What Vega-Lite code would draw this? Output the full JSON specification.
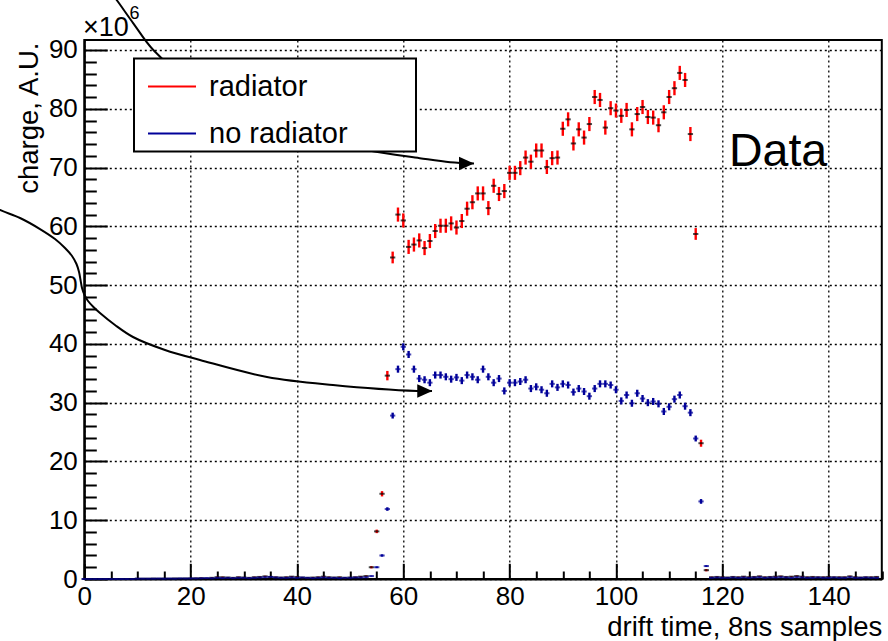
{
  "$schema": "https://vega.github.io/schema/vega-lite/v6.json",
  "width": 797.5,
  "height": 539,
  "autosize": {"type": "none"},
  "padding": {"left": 84.3, "top": 40, "right": 6.2, "bottom": 62},
  "background": "white",
  "config": {
    "view": {"stroke": "black", "strokeWidth": 2},
    "font": "Liberation Sans",
    "axis": {"domainColor": "black", "domainWidth": 2, "tickColor": "black", "tickWidth": 2, "gridColor": "black", "gridDash": [2, 3], "gridWidth": 1.3, "labelFont": "Liberation Sans", "labelFontSize": 26, "labelColor": "black", "titleFont": "Liberation Sans", "titleFontSize": 27.5, "titleColor": "black", "titleFontWeight": "normal", "labelFlush": false, "labelOverlap": false},
    "legend": {"strokeWidth": 2}
  },
  "datasets": {
    "pts": [
      {"x":0,"v":0,"e":0.05,"s":"radiator"},{"x":1,"v":0,"e":0.05,"s":"radiator"},{"x":2,"v":0,"e":0.05,"s":"radiator"},{"x":3,"v":0,"e":0.05,"s":"radiator"},{"x":4,"v":0,"e":0.05,"s":"radiator"},{"x":5,"v":0,"e":0.05,"s":"radiator"},{"x":6,"v":0,"e":0.05,"s":"radiator"},{"x":7,"v":0,"e":0.05,"s":"radiator"},{"x":8,"v":0,"e":0.05,"s":"radiator"},{"x":9,"v":0,"e":0.05,"s":"radiator"},
      {"x":10,"v":0.05,"e":0.05,"s":"radiator"},{"x":11,"v":0.05,"e":0.05,"s":"radiator"},{"x":12,"v":0.05,"e":0.05,"s":"radiator"},{"x":13,"v":0.08,"e":0.05,"s":"radiator"},{"x":14,"v":0.05,"e":0.05,"s":"radiator"},{"x":15,"v":0.08,"e":0.05,"s":"radiator"},{"x":16,"v":0.05,"e":0.05,"s":"radiator"},{"x":17,"v":0.1,"e":0.05,"s":"radiator"},{"x":18,"v":0.08,"e":0.05,"s":"radiator"},{"x":19,"v":0.1,"e":0.05,"s":"radiator"},
      {"x":20,"v":0.1,"e":0.08,"s":"radiator"},{"x":21,"v":0.12,"e":0.08,"s":"radiator"},{"x":22,"v":0.15,"e":0.08,"s":"radiator"},{"x":23,"v":0.1,"e":0.08,"s":"radiator"},{"x":24,"v":0.2,"e":0.08,"s":"radiator"},{"x":25,"v":0.3,"e":0.1,"s":"radiator"},{"x":26,"v":0.3,"e":0.1,"s":"radiator"},{"x":27,"v":0.25,"e":0.1,"s":"radiator"},{"x":28,"v":0.2,"e":0.1,"s":"radiator"},{"x":29,"v":0.3,"e":0.1,"s":"radiator"},
      {"x":30,"v":0.25,"e":0.1,"s":"radiator"},{"x":31,"v":0.2,"e":0.1,"s":"radiator"},{"x":32,"v":0.3,"e":0.1,"s":"radiator"},{"x":33,"v":0.35,"e":0.1,"s":"radiator"},{"x":34,"v":0.45,"e":0.1,"s":"radiator"},{"x":35,"v":0.35,"e":0.1,"s":"radiator"},{"x":36,"v":0.3,"e":0.1,"s":"radiator"},{"x":37,"v":0.25,"e":0.1,"s":"radiator"},{"x":38,"v":0.3,"e":0.1,"s":"radiator"},{"x":39,"v":0.4,"e":0.1,"s":"radiator"},
      {"x":40,"v":0.35,"e":0.1,"s":"radiator"},{"x":41,"v":0.25,"e":0.1,"s":"radiator"},{"x":42,"v":0.2,"e":0.1,"s":"radiator"},{"x":43,"v":0.25,"e":0.1,"s":"radiator"},{"x":44,"v":0.3,"e":0.1,"s":"radiator"},{"x":45,"v":0.4,"e":0.1,"s":"radiator"},{"x":46,"v":0.3,"e":0.1,"s":"radiator"},{"x":47,"v":0.25,"e":0.1,"s":"radiator"},{"x":48,"v":0.3,"e":0.1,"s":"radiator"},{"x":49,"v":0.2,"e":0.1,"s":"radiator"},
      {"x":50,"v":0.25,"e":0.1,"s":"radiator"},{"x":51,"v":0.3,"e":0.1,"s":"radiator"},{"x":52,"v":0.4,"e":0.1,"s":"radiator"},{"x":53,"v":0.5,"e":0.1,"s":"radiator"},
      {"x":54,"v":2.0,"e":0.2,"s":"radiator"},{"x":55,"v":8.1,"e":0.3,"s":"radiator"},{"x":56,"v":14.5,"e":0.45,"s":"radiator"},{"x":57,"v":34.6,"e":0.8,"s":"radiator"},{"x":58,"v":54.7,"e":1.0,"s":"radiator"},{"x":59,"v":62.0,"e":1.2,"s":"radiator"},
      {"x":60,"v":61.0,"e":1.2,"s":"radiator"},{"x":61,"v":56.5,"e":1.2,"s":"radiator"},{"x":62,"v":56.9,"e":1.2,"s":"radiator"},{"x":63,"v":57.6,"e":1.2,"s":"radiator"},{"x":64,"v":56.3,"e":1.2,"s":"radiator"},{"x":65,"v":57.5,"e":1.2,"s":"radiator"},{"x":66,"v":59.2,"e":1.2,"s":"radiator"},{"x":67,"v":60.1,"e":1.2,"s":"radiator"},{"x":68,"v":60.1,"e":1.2,"s":"radiator"},{"x":69,"v":60.5,"e":1.2,"s":"radiator"},
      {"x":70,"v":59.8,"e":1.2,"s":"radiator"},{"x":71,"v":60.9,"e":1.2,"s":"radiator"},{"x":72,"v":63.0,"e":1.2,"s":"radiator"},{"x":73,"v":64.1,"e":1.2,"s":"radiator"},{"x":74,"v":65.6,"e":1.2,"s":"radiator"},{"x":75,"v":65.6,"e":1.2,"s":"radiator"},{"x":76,"v":63.1,"e":1.2,"s":"radiator"},{"x":77,"v":66.9,"e":1.2,"s":"radiator"},{"x":78,"v":65.5,"e":1.2,"s":"radiator"},{"x":79,"v":66.0,"e":1.2,"s":"radiator"},
      {"x":80,"v":69.1,"e":1.2,"s":"radiator"},{"x":81,"v":69.1,"e":1.2,"s":"radiator"},{"x":82,"v":69.9,"e":1.2,"s":"radiator"},{"x":83,"v":71.7,"e":1.2,"s":"radiator"},{"x":84,"v":71.0,"e":1.2,"s":"radiator"},{"x":85,"v":72.9,"e":1.2,"s":"radiator"},{"x":86,"v":72.9,"e":1.2,"s":"radiator"},{"x":87,"v":70.1,"e":1.2,"s":"radiator"},{"x":88,"v":71.6,"e":1.2,"s":"radiator"},{"x":89,"v":71.7,"e":1.2,"s":"radiator"},
      {"x":90,"v":76.6,"e":1.2,"s":"radiator"},{"x":91,"v":78.2,"e":1.2,"s":"radiator"},{"x":92,"v":74.1,"e":1.2,"s":"radiator"},{"x":93,"v":76.5,"e":1.2,"s":"radiator"},{"x":94,"v":75.1,"e":1.2,"s":"radiator"},{"x":95,"v":77.4,"e":1.2,"s":"radiator"},{"x":96,"v":82.0,"e":1.2,"s":"radiator"},{"x":97,"v":81.5,"e":1.2,"s":"radiator"},{"x":98,"v":76.8,"e":1.2,"s":"radiator"},{"x":99,"v":80.1,"e":1.2,"s":"radiator"},
      {"x":100,"v":79.7,"e":1.2,"s":"radiator"},{"x":101,"v":78.8,"e":1.2,"s":"radiator"},{"x":102,"v":79.8,"e":1.2,"s":"radiator"},{"x":103,"v":76.5,"e":1.2,"s":"radiator"},{"x":104,"v":79.1,"e":1.2,"s":"radiator"},{"x":105,"v":80.3,"e":1.2,"s":"radiator"},{"x":106,"v":78.6,"e":1.2,"s":"radiator"},{"x":107,"v":78.5,"e":1.2,"s":"radiator"},{"x":108,"v":77.2,"e":1.2,"s":"radiator"},{"x":109,"v":79.4,"e":1.2,"s":"radiator"},
      {"x":110,"v":82.0,"e":1.2,"s":"radiator"},{"x":111,"v":83.5,"e":1.2,"s":"radiator"},{"x":112,"v":86.1,"e":1.2,"s":"radiator"},{"x":113,"v":84.9,"e":1.2,"s":"radiator"},{"x":114,"v":75.7,"e":1.2,"s":"radiator"},{"x":115,"v":58.7,"e":1.0,"s":"radiator"},{"x":116,"v":23.1,"e":0.6,"s":"radiator"},{"x":117,"v":1.5,"e":0.2,"s":"radiator"},
      {"x":118,"v":0.3,"e":0.1,"s":"radiator"},{"x":119,"v":0.35,"e":0.1,"s":"radiator"},{"x":120,"v":0.3,"e":0.1,"s":"radiator"},{"x":121,"v":0.25,"e":0.1,"s":"radiator"},{"x":122,"v":0.35,"e":0.1,"s":"radiator"},{"x":123,"v":0.3,"e":0.1,"s":"radiator"},{"x":124,"v":0.4,"e":0.1,"s":"radiator"},{"x":125,"v":0.3,"e":0.1,"s":"radiator"},{"x":126,"v":0.35,"e":0.1,"s":"radiator"},{"x":127,"v":0.45,"e":0.1,"s":"radiator"},
      {"x":128,"v":0.3,"e":0.1,"s":"radiator"},{"x":129,"v":0.35,"e":0.1,"s":"radiator"},{"x":130,"v":0.4,"e":0.1,"s":"radiator"},{"x":131,"v":0.45,"e":0.1,"s":"radiator"},{"x":132,"v":0.35,"e":0.1,"s":"radiator"},{"x":133,"v":0.4,"e":0.1,"s":"radiator"},{"x":134,"v":0.5,"e":0.1,"s":"radiator"},{"x":135,"v":0.4,"e":0.1,"s":"radiator"},{"x":136,"v":0.3,"e":0.1,"s":"radiator"},{"x":137,"v":0.35,"e":0.1,"s":"radiator"},
      {"x":138,"v":0.3,"e":0.1,"s":"radiator"},{"x":139,"v":0.3,"e":0.1,"s":"radiator"},{"x":140,"v":0.35,"e":0.1,"s":"radiator"},{"x":141,"v":0.3,"e":0.1,"s":"radiator"},{"x":142,"v":0.3,"e":0.1,"s":"radiator"},{"x":143,"v":0.3,"e":0.1,"s":"radiator"},{"x":144,"v":0.45,"e":0.1,"s":"radiator"},{"x":145,"v":0.3,"e":0.1,"s":"radiator"},{"x":146,"v":0.25,"e":0.1,"s":"radiator"},{"x":147,"v":0.3,"e":0.1,"s":"radiator"},{"x":148,"v":0.3,"e":0.1,"s":"radiator"},{"x":149,"v":0.35,"e":0.1,"s":"radiator"},

      {"x":0,"v":0,"e":0.05,"s":"no radiator"},{"x":1,"v":0,"e":0.05,"s":"no radiator"},{"x":2,"v":0,"e":0.05,"s":"no radiator"},{"x":3,"v":0,"e":0.05,"s":"no radiator"},{"x":4,"v":0,"e":0.05,"s":"no radiator"},{"x":5,"v":0,"e":0.05,"s":"no radiator"},{"x":6,"v":0,"e":0.05,"s":"no radiator"},{"x":7,"v":0,"e":0.05,"s":"no radiator"},{"x":8,"v":0,"e":0.05,"s":"no radiator"},{"x":9,"v":0,"e":0.05,"s":"no radiator"},
      {"x":10,"v":0.05,"e":0.05,"s":"no radiator"},{"x":11,"v":0.05,"e":0.05,"s":"no radiator"},{"x":12,"v":0.05,"e":0.05,"s":"no radiator"},{"x":13,"v":0.05,"e":0.05,"s":"no radiator"},{"x":14,"v":0.08,"e":0.05,"s":"no radiator"},{"x":15,"v":0.05,"e":0.05,"s":"no radiator"},{"x":16,"v":0.08,"e":0.05,"s":"no radiator"},{"x":17,"v":0.05,"e":0.05,"s":"no radiator"},{"x":18,"v":0.1,"e":0.05,"s":"no radiator"},{"x":19,"v":0.08,"e":0.05,"s":"no radiator"},
      {"x":20,"v":0.1,"e":0.06,"s":"no radiator"},{"x":21,"v":0.1,"e":0.06,"s":"no radiator"},{"x":22,"v":0.12,"e":0.06,"s":"no radiator"},{"x":23,"v":0.15,"e":0.06,"s":"no radiator"},{"x":24,"v":0.12,"e":0.06,"s":"no radiator"},{"x":25,"v":0.2,"e":0.06,"s":"no radiator"},{"x":26,"v":0.15,"e":0.06,"s":"no radiator"},{"x":27,"v":0.2,"e":0.06,"s":"no radiator"},{"x":28,"v":0.15,"e":0.06,"s":"no radiator"},{"x":29,"v":0.2,"e":0.06,"s":"no radiator"},
      {"x":30,"v":0.2,"e":0.06,"s":"no radiator"},{"x":31,"v":0.15,"e":0.06,"s":"no radiator"},{"x":32,"v":0.2,"e":0.06,"s":"no radiator"},{"x":33,"v":0.25,"e":0.06,"s":"no radiator"},{"x":34,"v":0.3,"e":0.06,"s":"no radiator"},{"x":35,"v":0.35,"e":0.06,"s":"no radiator"},{"x":36,"v":0.25,"e":0.06,"s":"no radiator"},{"x":37,"v":0.2,"e":0.06,"s":"no radiator"},{"x":38,"v":0.2,"e":0.06,"s":"no radiator"},{"x":39,"v":0.25,"e":0.06,"s":"no radiator"},
      {"x":40,"v":0.2,"e":0.06,"s":"no radiator"},{"x":41,"v":0.25,"e":0.06,"s":"no radiator"},{"x":42,"v":0.2,"e":0.06,"s":"no radiator"},{"x":43,"v":0.15,"e":0.06,"s":"no radiator"},{"x":44,"v":0.2,"e":0.06,"s":"no radiator"},{"x":45,"v":0.25,"e":0.06,"s":"no radiator"},{"x":46,"v":0.2,"e":0.06,"s":"no radiator"},{"x":47,"v":0.2,"e":0.06,"s":"no radiator"},{"x":48,"v":0.15,"e":0.06,"s":"no radiator"},{"x":49,"v":0.2,"e":0.06,"s":"no radiator"},
      {"x":50,"v":0.2,"e":0.06,"s":"no radiator"},{"x":51,"v":0.25,"e":0.06,"s":"no radiator"},{"x":52,"v":0.25,"e":0.06,"s":"no radiator"},{"x":53,"v":0.3,"e":0.06,"s":"no radiator"},
      {"x":54,"v":0.5,"e":0.1,"s":"no radiator"},{"x":55,"v":2.0,"e":0.15,"s":"no radiator"},{"x":56,"v":4.0,"e":0.2,"s":"no radiator"},{"x":57,"v":11.9,"e":0.3,"s":"no radiator"},{"x":58,"v":27.8,"e":0.5,"s":"no radiator"},{"x":59,"v":35.7,"e":0.6,"s":"no radiator"},
      {"x":60,"v":39.5,"e":0.6,"s":"no radiator"},{"x":61,"v":38.2,"e":0.6,"s":"no radiator"},{"x":62,"v":35.7,"e":0.6,"s":"no radiator"},{"x":63,"v":34.1,"e":0.6,"s":"no radiator"},{"x":64,"v":33.9,"e":0.6,"s":"no radiator"},{"x":65,"v":33.4,"e":0.6,"s":"no radiator"},{"x":66,"v":34.7,"e":0.6,"s":"no radiator"},{"x":67,"v":34.7,"e":0.6,"s":"no radiator"},{"x":68,"v":34.4,"e":0.6,"s":"no radiator"},{"x":69,"v":34.0,"e":0.6,"s":"no radiator"},
      {"x":70,"v":34.3,"e":0.6,"s":"no radiator"},{"x":71,"v":33.75,"e":0.6,"s":"no radiator"},{"x":72,"v":34.7,"e":0.6,"s":"no radiator"},{"x":73,"v":34.4,"e":0.6,"s":"no radiator"},{"x":74,"v":33.9,"e":0.6,"s":"no radiator"},{"x":75,"v":35.7,"e":0.6,"s":"no radiator"},{"x":76,"v":34.4,"e":0.6,"s":"no radiator"},{"x":77,"v":33.4,"e":0.6,"s":"no radiator"},{"x":78,"v":34.1,"e":0.6,"s":"no radiator"},{"x":79,"v":32.0,"e":0.6,"s":"no radiator"},
      {"x":80,"v":33.4,"e":0.6,"s":"no radiator"},{"x":81,"v":33.4,"e":0.6,"s":"no radiator"},{"x":82,"v":33.6,"e":0.6,"s":"no radiator"},{"x":83,"v":33.9,"e":0.6,"s":"no radiator"},{"x":84,"v":32.4,"e":0.6,"s":"no radiator"},{"x":85,"v":32.7,"e":0.6,"s":"no radiator"},{"x":86,"v":32.2,"e":0.6,"s":"no radiator"},{"x":87,"v":31.6,"e":0.6,"s":"no radiator"},{"x":88,"v":33.2,"e":0.6,"s":"no radiator"},{"x":89,"v":32.6,"e":0.6,"s":"no radiator"},
      {"x":90,"v":33.2,"e":0.6,"s":"no radiator"},{"x":91,"v":33.0,"e":0.6,"s":"no radiator"},{"x":92,"v":31.8,"e":0.6,"s":"no radiator"},{"x":93,"v":32.4,"e":0.6,"s":"no radiator"},{"x":94,"v":31.9,"e":0.6,"s":"no radiator"},{"x":95,"v":31.1,"e":0.6,"s":"no radiator"},{"x":96,"v":32.4,"e":0.6,"s":"no radiator"},{"x":97,"v":33.2,"e":0.6,"s":"no radiator"},{"x":98,"v":33.2,"e":0.6,"s":"no radiator"},{"x":99,"v":33.0,"e":0.6,"s":"no radiator"},
      {"x":100,"v":32.2,"e":0.6,"s":"no radiator"},{"x":101,"v":30.3,"e":0.6,"s":"no radiator"},{"x":102,"v":31.3,"e":0.6,"s":"no radiator"},{"x":103,"v":29.9,"e":0.6,"s":"no radiator"},{"x":104,"v":31.6,"e":0.6,"s":"no radiator"},{"x":105,"v":30.7,"e":0.6,"s":"no radiator"},{"x":106,"v":30.0,"e":0.6,"s":"no radiator"},{"x":107,"v":30.2,"e":0.6,"s":"no radiator"},{"x":108,"v":29.8,"e":0.6,"s":"no radiator"},{"x":109,"v":28.5,"e":0.6,"s":"no radiator"},
      {"x":110,"v":29.3,"e":0.6,"s":"no radiator"},{"x":111,"v":30.6,"e":0.6,"s":"no radiator"},{"x":112,"v":31.3,"e":0.6,"s":"no radiator"},{"x":113,"v":29.4,"e":0.6,"s":"no radiator"},{"x":114,"v":28.3,"e":0.6,"s":"no radiator"},{"x":115,"v":23.9,"e":0.5,"s":"no radiator"},{"x":116,"v":13.2,"e":0.4,"s":"no radiator"},{"x":117,"v":2.2,"e":0.15,"s":"no radiator"},
      {"x":118,"v":0.2,"e":0.06,"s":"no radiator"},{"x":119,"v":0.25,"e":0.06,"s":"no radiator"},{"x":120,"v":0.2,"e":0.06,"s":"no radiator"},{"x":121,"v":0.2,"e":0.06,"s":"no radiator"},{"x":122,"v":0.25,"e":0.06,"s":"no radiator"},{"x":123,"v":0.2,"e":0.06,"s":"no radiator"},{"x":124,"v":0.25,"e":0.06,"s":"no radiator"},{"x":125,"v":0.2,"e":0.06,"s":"no radiator"},{"x":126,"v":0.25,"e":0.06,"s":"no radiator"},{"x":127,"v":0.3,"e":0.06,"s":"no radiator"},
      {"x":128,"v":0.2,"e":0.06,"s":"no radiator"},{"x":129,"v":0.25,"e":0.06,"s":"no radiator"},{"x":130,"v":0.25,"e":0.06,"s":"no radiator"},{"x":131,"v":0.3,"e":0.06,"s":"no radiator"},{"x":132,"v":0.25,"e":0.06,"s":"no radiator"},{"x":133,"v":0.2,"e":0.06,"s":"no radiator"},{"x":134,"v":0.3,"e":0.06,"s":"no radiator"},{"x":135,"v":0.25,"e":0.06,"s":"no radiator"},{"x":136,"v":0.2,"e":0.06,"s":"no radiator"},{"x":137,"v":0.2,"e":0.06,"s":"no radiator"},
      {"x":138,"v":0.25,"e":0.06,"s":"no radiator"},{"x":139,"v":0.2,"e":0.06,"s":"no radiator"},{"x":140,"v":0.2,"e":0.06,"s":"no radiator"},{"x":141,"v":0.25,"e":0.06,"s":"no radiator"},{"x":142,"v":0.2,"e":0.06,"s":"no radiator"},{"x":143,"v":0.2,"e":0.06,"s":"no radiator"},{"x":144,"v":0.3,"e":0.06,"s":"no radiator"},{"x":145,"v":0.2,"e":0.06,"s":"no radiator"},{"x":146,"v":0.2,"e":0.06,"s":"no radiator"},{"x":147,"v":0.25,"e":0.06,"s":"no radiator"},{"x":148,"v":0.2,"e":0.06,"s":"no radiator"},{"x":149,"v":0.2,"e":0.06,"s":"no radiator"}
    ],
    "arrow1": [
      {"x":3.9,"v":101.1},{"x":6.09,"v":98.5},{"x":9.22,"v":94.54},{"x":12.98,"v":90.0},{"x":20.5,"v":84.3},{"x":31.2,"v":79.2},{"x":40.6,"v":75.8},{"x":53.1,"v":73.0},{"x":63.1,"v":71.6},{"x":68.8,"v":70.9},{"x":73.3,"v":70.7}
    ],
    "arrow2": [
      {"x":-19.6,"v":64.5},{"x":-15.85,"v":62.78},{"x":-12.09,"v":61.42},{"x":-8.33,"v":59.54},{"x":-5.51,"v":57.84},{"x":-3.63,"v":56.31},{"x":-2.31,"v":54.95},{"x":-1.47,"v":53.59},{"x":-0.99,"v":52.23},{"x":-0.71,"v":50.87},{"x":-0.43,"v":49.51},{"x":0.04,"v":48.32},{"x":0.7,"v":47.3},{"x":1.82,"v":46.19},{"x":2.95,"v":45.25},{"x":5.77,"v":43.21},{"x":9.16,"v":41.17},{"x":15.18,"v":38.96},{"x":21.76,"v":37.26},{"x":34.36,"v":34.37},{"x":46.77,"v":33.0},{"x":62.6,"v":31.98},{"x":65.4,"v":31.98}
    ],
    "heads": [
      {"x":73.3,"v":70.7},{"x":65.45,"v":31.98}
    ]
  },
  "layer": [
    {
      "data": {"name": "pts"},
      "mark": {"type": "errorbar", "thickness": 2.4},
      "encoding": {
        "x": {"field": "x", "type": "quantitative", "scale": {"domain": [0, 150], "nice": false, "zero": false},
          "axis": {
            "values": [0,5,10,15,20,25,30,35,40,45,50,55,60,65,70,75,80,85,90,95,100,105,110,115,120,125,130,135,140,145,150],
            "tickCount": 200,
            "format": "d",
            "labelExpr": "datum.value % 20 === 0 ? datum.label : ''",
            "labelOverlap": false,
            "tickSize": {"condition": {"test": "datum.value % 20 === 0", "value": -15.7}, "value": -8},
            "gridOpacity": {"condition": {"test": "datum.value % 20 === 0", "value": 1}, "value": 0},
            "labelPadding": 20,
            "title": "drift time, 8ns samples",
            "titleX": 797.5, "titleY": 56, "titleAlign": "right", "titleBaseline": "alphabetic", "titleAnchor": "end"
          }
        },
        "y": {"field": "v", "type": "quantitative", "scale": {"domain": [0, 91.7], "nice": false},
          "axis": {
            "values": [0,2,4,6,8,10,12,14,16,18,20,22,24,26,28,30,32,34,36,38,40,42,44,46,48,50,52,54,56,58,60,62,64,66,68,70,72,74,76,78,80,82,84,86,88,90],
            "tickCount": 200,
            "format": "d",
            "labelExpr": "datum.value % 10 === 0 ? datum.label : ''",
            "labelOverlap": false,
            "tickSize": {"condition": {"test": "datum.value % 10 === 0", "value": -23}, "value": -12},
            "gridOpacity": {"condition": {"test": "datum.value % 10 === 0", "value": 1}, "value": 0},
            "labelPadding": 30,
            "title": "charge, A.U.",
            "titleX": -47, "titleY": 2, "titleAlign": "right", "titleBaseline": "alphabetic", "titleAnchor": "end"
          }
        },
        "yError": {"field": "e"},
        "color": {"field": "s", "type": "nominal",
          "scale": {"domain": ["radiator", "no radiator"], "range": ["#ff0000", "#000099"]},
          "legend": {"orient": "none", "legendX": 49.7, "legendY": 18.5, "title": null, "symbolType": "stroke", "symbolSize": 2304, "symbolStrokeWidth": 2, "labelFontSize": 29, "labelFont": "Liberation Sans", "labelColor": "black", "labelLimit": 500, "strokeColor": "black", "fillColor": "white", "padding": 3, "symbolOffset": 10, "labelOffset": 12, "rowPadding": 7,
            "labelExpr": "datum.label + '\u00a0\u00a0\u00a0\u00a0\u00a0\u00a0\u00a0\u00a0\u200b'"}
        }
      }
    },
    {
      "data": {"name": "pts"},
      "mark": {"type": "tick", "orient": "horizontal", "size": 5.3, "thickness": 2},
      "encoding": {
        "x": {"field": "x", "type": "quantitative"},
        "y": {"field": "v", "type": "quantitative"},
        "color": {"condition": {"test": "datum.s === 'radiator'", "value": "black"}, "value": "#000099"}
      }
    },
    {
      "data": {"name": "arrow1"},
      "mark": {"type": "line", "color": "black", "strokeWidth": 2, "clip": false, "interpolate": "catmull-rom"},
      "encoding": {
        "x": {"field": "x", "type": "quantitative"},
        "y": {"field": "v", "type": "quantitative"}
      }
    },
    {
      "data": {"name": "arrow2"},
      "mark": {"type": "line", "color": "black", "strokeWidth": 2, "clip": false, "interpolate": "catmull-rom"},
      "encoding": {
        "x": {"field": "x", "type": "quantitative"},
        "y": {"field": "v", "type": "quantitative"}
      }
    },
    {
      "data": {"name": "heads"},
      "mark": {"type": "point", "shape": "M0,0L-1,-0.45L-1,0.45Z", "size": 900, "filled": true, "color": "black", "opacity": 1, "strokeWidth": 0},
      "encoding": {
        "x": {"field": "x", "type": "quantitative"},
        "y": {"field": "v", "type": "quantitative"}
      }
    },
    {
      "data": {"values": [{}]},
      "mark": {"type": "text", "text": "×10", "align": "left", "baseline": "alphabetic", "fontSize": 27, "font": "Liberation Sans", "color": "black"},
      "encoding": {"x": {"datum": -0.25, "type": "quantitative"}, "y": {"datum": 92.3, "type": "quantitative"}}
    },
    {
      "data": {"values": [{}]},
      "mark": {"type": "text", "text": "6", "align": "left", "baseline": "alphabetic", "fontSize": 18, "font": "Liberation Sans", "color": "black"},
      "encoding": {"x": {"datum": 8.5, "type": "quantitative"}, "y": {"datum": 95.2, "type": "quantitative"}}
    },
    {
      "data": {"values": [{}]},
      "mark": {"type": "text", "text": "Data", "align": "left", "baseline": "alphabetic", "fontSize": 46.5, "font": "Liberation Sans", "color": "black"},
      "encoding": {"x": {"datum": 121.25, "type": "quantitative"}, "y": {"datum": 70.2, "type": "quantitative"}}
    }
  ]
}
